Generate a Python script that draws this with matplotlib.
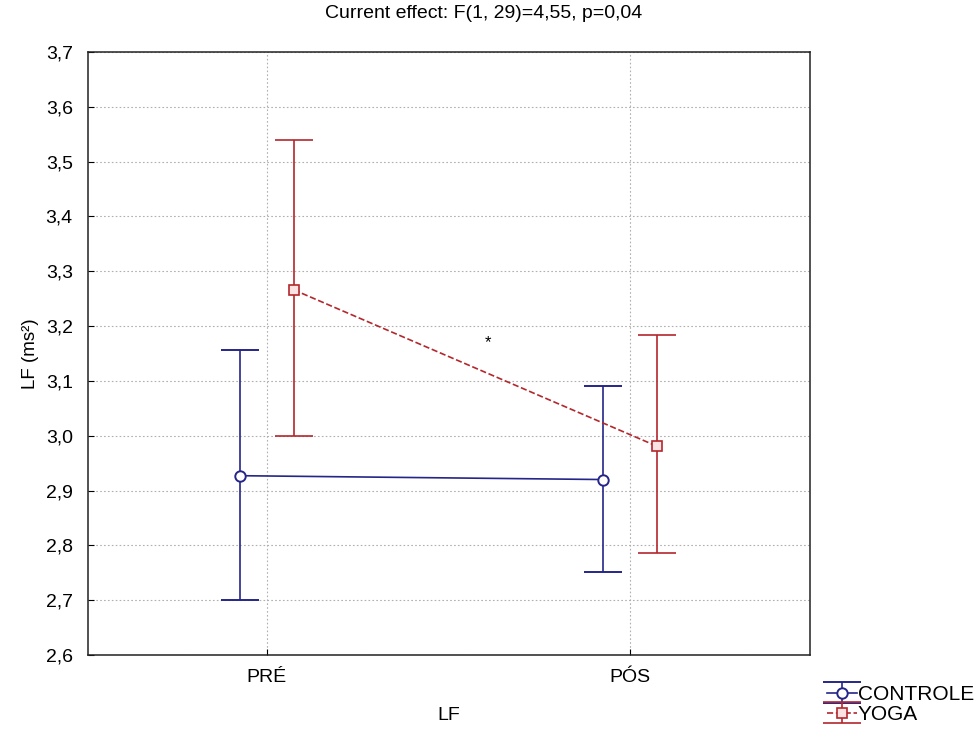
import matplotlib.pyplot as plt
from matplotlib.ticker import FuncFormatter, MultipleLocator
import numpy as np

# data
categories = ['PRÉ', 'PÓS']
controle_mean = [2.927, 2.920]
controle_low = [2.700, 2.752]
controle_high = [3.157, 3.091]
yoga_mean = [3.266, 2.981]
yoga_low = [3.000, 2.786]
yoga_high = [3.540, 3.183]

plt.rcParams['font.family'] = ['Liberation Sans', 'DejaVu Sans']

fig = plt.figure(figsize=(9.78, 7.31), dpi=100)
ax = fig.add_axes([0.090, 0.104, 0.738, 0.825])

x = np.arange(len(categories))
off = 0.074
blue = '#26268a'
red = '#b3282d'

c_mean = np.array(controle_mean)
c_err = [c_mean - np.array(controle_low), np.array(controle_high) - c_mean]
y_mean = np.array(yoga_mean)
y_err = [y_mean - np.array(yoga_low), np.array(yoga_high) - y_mean]

h1 = ax.errorbar(x - off, c_mean, yerr=c_err, color=blue, lw=1.2,
                 marker='o', ms=7.5, mfc='white', mec=blue, mew=1.4,
                 capsize=14, capthick=1.2, elinewidth=1.2, label='CONTROLE', zorder=3)
h2 = ax.errorbar(x + off, y_mean, yerr=y_err, color=red, lw=1.2, ls='--',
                 marker='s', ms=7, mfc='#fbe3e3', mec=red, mew=1.2,
                 capsize=14, capthick=1.2, elinewidth=1.2, label='YOGA', zorder=3)
h2[2][0].set_linestyle('-')

ax.text(0.609, 3.17, '*', ha='center', va='center', fontsize=12)

ax.set_xlim(-0.493, 1.496)
ax.set_ylim(2.6, 3.7)
ax.set_xticks(x)
ax.set_xticklabels(categories)
ax.yaxis.set_major_locator(MultipleLocator(0.1))
ax.yaxis.set_major_formatter(FuncFormatter(lambda v, p: f'{v:.1f}'.replace('.', ',')))
ax.tick_params(direction='in', labelsize=14, length=4)
ax.tick_params(axis='y', pad=11)
ax.tick_params(axis='x', pad=10)
ax.grid(True, color='#b0b0b0', ls=(0, (1.5, 2)), lw=0.8)
ax.set_axisbelow(True)
for s in ax.spines.values():
    s.set_linewidth(1.1)
    s.set_color('#222222')

ax.set_xlabel('LF', fontsize=14, labelpad=15)
ax.set_ylabel('LF (ms²)', fontsize=13.5, labelpad=5)
fig.text(0.495, 0.981, 'Current effect: F(1, 29)=4,55, p=0,04', fontsize=14,
         ha='center', va='center')

fig.legend(handles=[h1, h2], loc='lower right', bbox_to_anchor=(1.012, -0.012),
           frameon=False, fontsize=15, handlelength=1.45, handletextpad=0.05,
           labelspacing=0.05, borderpad=0.25)

fig.savefig('out.png', dpi=100)
